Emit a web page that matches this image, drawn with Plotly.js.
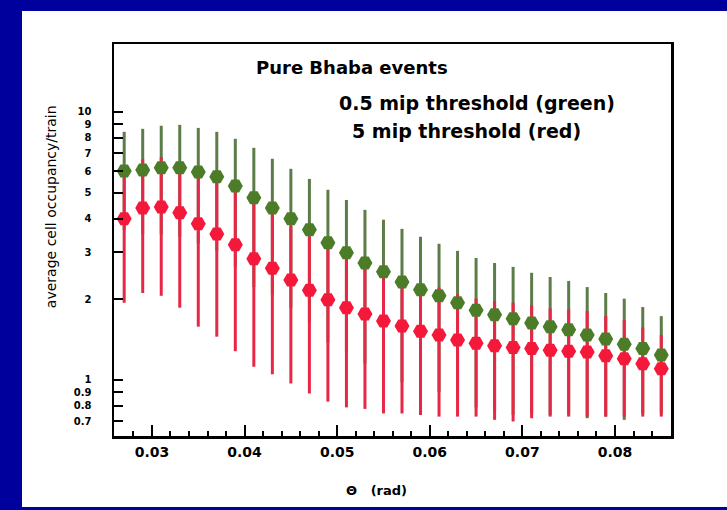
<!DOCTYPE html>
<html>
<head>
<meta charset="utf-8">
<script src="https://cdn.plot.ly/plotly-3.0.1.min.js"></script>
<style>
  html, body { margin: 0; padding: 0; background: #00009c; width: 727px; height: 510px; overflow: hidden; }
  #chart { position: absolute; left: 22px; top: 11px; width: 705px; height: 496px; }
</style>
</head>
<body>
<div id="chart"></div>
<script>
// Theta (rad)
const theta = [0.027, 0.029, 0.031, 0.033, 0.035, 0.037, 0.039, 0.041, 0.043, 0.045,
               0.047, 0.049, 0.051, 0.053, 0.055, 0.057, 0.059, 0.061, 0.063, 0.065,
               0.067, 0.069, 0.071, 0.073, 0.075, 0.077, 0.079, 0.081, 0.083, 0.085];
// 0.5 mip threshold (green)
const greenOcc = [6.02, 6.07, 6.18, 6.18, 5.97, 5.72, 5.29, 4.78, 4.38, 3.99,
                  3.63, 3.25, 2.98, 2.73, 2.53, 2.32, 2.17, 2.06, 1.94, 1.82,
                  1.75, 1.69, 1.63, 1.58, 1.54, 1.47, 1.42, 1.36, 1.31, 1.24];
const greenErr = [2.40, 2.57, 2.69, 2.76, 2.74, 2.70, 2.64, 2.56, 2.30, 2.14,
                  1.99, 1.87, 1.71, 1.58, 1.43, 1.34, 1.25, 1.16, 1.09, 1.03,
                  0.98, 0.95, 0.88, 0.84, 0.80, 0.75, 0.69, 0.65, 0.56, 0.49];
// 5 mip threshold (red)
const redOcc = [3.99, 4.38, 4.42, 4.20, 3.82, 3.50, 3.19, 2.83, 2.61, 2.36,
                2.16, 1.99, 1.86, 1.76, 1.66, 1.59, 1.52, 1.47, 1.41, 1.37,
                1.34, 1.32, 1.31, 1.29, 1.28, 1.27, 1.23, 1.20, 1.15, 1.10];
const redErr = [2.05, 2.27, 2.36, 2.34, 2.24, 2.05, 1.91, 1.71, 1.56, 1.39,
                1.27, 1.16, 1.07, 0.98, 0.91, 0.84, 0.78, 0.74, 0.68, 0.64,
                0.63, 0.62, 0.59, 0.56, 0.55, 0.54, 0.50, 0.47, 0.42, 0.37];
// tick labels
const xTickVals = [0.03, 0.04, 0.05, 0.06, 0.07, 0.08];
const xTickText = ['0.03', '0.04', '0.05', '0.06', '0.07', '0.08'];
const yTickVals = [0.7, 0.8, 0.9, 1, 2, 3, 4, 5, 6, 7, 8, 9, 10];
const yTickText = ['0.7', '0.8', '0.9', '1', '2', '3', '4', '5', '6', '7', '8', '9', '10'];
const yMajorVals = [1, 10];

const GREEN_BAR = 'rgb(92,124,72)';
const GREEN_MK = 'rgb(76,124,40)';
const RED_BAR = 'rgb(232,38,70)';
const RED_MK = 'rgb(244,24,58)';

const traces = [
  { x: theta, y: greenOcc, type: 'scatter', mode: 'markers', showlegend: false, hoverinfo: 'skip',
    marker: { size: 2, color: 'rgba(0,0,0,0)' },
    error_y: { type: 'data', array: greenErr, visible: true, color: GREEN_BAR, thickness: 3, width: 0 } },
  { x: theta, y: redOcc, type: 'scatter', mode: 'markers', showlegend: false, hoverinfo: 'skip',
    marker: { size: 2, color: 'rgba(0,0,0,0)' },
    error_y: { type: 'data', array: redErr, visible: true, color: RED_BAR, thickness: 3, width: 0 } },
  { x: theta, y: greenOcc, type: 'scatter', mode: 'markers', name: '0.5 mip threshold',
    marker: { symbol: 'hexagon2', size: 15, color: GREEN_MK, line: { width: 0 } } },
  { x: theta, y: redOcc, type: 'scatter', mode: 'markers', name: '5 mip threshold',
    marker: { symbol: 'hexagon2', size: 15, color: RED_MK, line: { width: 0 } } }
];

const FONT = 'DejaVu Sans, Verdana, sans-serif';

const layout = {
  width: 705, height: 496,
  margin: { l: 92, r: 56, t: 33, b: 71 },
  paper_bgcolor: 'white', plot_bgcolor: 'white',
  showlegend: false,
  font: { family: FONT, color: 'black' },
  xaxis: {
    range: [0.0259, 0.08605],
    tickvals: xTickVals, ticktext: xTickText,
    ticks: 'inside', ticklen: 11, tickwidth: 2, tickcolor: 'black',
    minor: { dtick: 0.002, tick0: 0.03, ticks: 'inside', ticklen: 5, tickwidth: 2, tickcolor: 'black', showgrid: false },
    showline: true, linewidth: 2.5, linecolor: 'black', mirror: true,
    showgrid: false, zeroline: false,
    tickfont: { family: FONT, size: 14, color: 'black', weight: 'bold' },
    ticklabelstandoff: 2
  },
  yaxis: {
    type: 'log', range: [Math.log10(0.618), Math.log10(17.9)],
    tickvals: yTickVals, ticktext: yTickText,
    ticks: 'inside', ticklen: 9, tickwidth: 2, tickcolor: 'black',
    showline: true, linewidth: 2.5, linecolor: 'black', mirror: true,
    showgrid: false, zeroline: false,
    tickfont: { family: FONT, size: 10, color: 'black', weight: 'bold' },
    ticklabelstandoff: 18
  },
  yaxis2: {
    type: 'log', range: [Math.log10(0.618), Math.log10(17.9)], overlaying: 'y', side: 'left',
    tickvals: yMajorVals, showticklabels: false,
    ticks: 'inside', ticklen: 18, tickwidth: 2, tickcolor: 'black',
    showline: false, showgrid: false, zeroline: false
  },
  annotations: [
    { text: 'Pure Bhaba events', xref: 'paper', yref: 'paper', x: 0.4265, y: 0.939,
      xanchor: 'center', yanchor: 'middle', showarrow: false,
      font: { family: FONT, size: 18, color: 'black', weight: 'bold' } },
    { text: '0.5 mip threshold (green)', xref: 'paper', yref: 'paper', x: 0.400, y: 0.849,
      xanchor: 'left', yanchor: 'middle', showarrow: false,
      font: { family: FONT, size: 19, color: 'black', weight: 'bold' } },
    { text: '5 mip threshold (red)', xref: 'paper', yref: 'paper', x: 0.424, y: 0.778,
      xanchor: 'left', yanchor: 'middle', showarrow: false,
      font: { family: FONT, size: 19, color: 'black', weight: 'bold' } },
    { text: 'Θ   (rad)', xref: 'paper', yref: 'paper', x: 0.472, y: -0.138,
      xanchor: 'center', yanchor: 'middle', showarrow: false,
      font: { family: FONT, size: 13, color: 'black', weight: 'bold' } },
    { text: 'average cell occupancy/train', xref: 'paper', yref: 'paper', x: -0.113, y: 0.584,
      xanchor: 'center', yanchor: 'middle', textangle: -90, showarrow: false,
      font: { family: FONT, size: 14, color: 'black' } }
  ]
};

Plotly.newPlot('chart', traces, layout, { displayModeBar: false, staticPlot: true });
</script>
</body>
</html>
